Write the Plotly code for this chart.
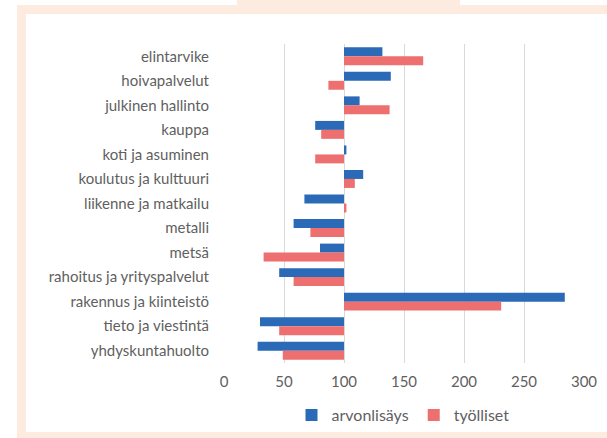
import plotly.graph_objects as go

categories = ["elintarvike", "hoivapalvelut", "julkinen hallinto", "kauppa",
              "koti ja asuminen", "koulutus ja kulttuuri", "liikenne ja matkailu",
              "metalli", "metsä", "rahoitus ja yrityspalvelut",
              "rakennus ja kiinteistö", "tieto ja viestintä", "yhdyskuntahuolto"]
arvonlisays = [132, 139, 113, 76, 102, 116, 67, 58, 80, 46, 284, 30, 28]
tyolliset = [166, 87, 138, 81, 76, 109, 102, 72, 33, 58, 231, 46, 49]
x_ticks = [0, 50, 100, 150, 200, 250, 300]
BASE = 100

W, H = 607, 438
L, R, T, B = 224, 23, 44, 75
pw, ph = W - L - R, H - T - B

def px(x):
    return (x - L) / pw

def py(y):
    return (H - B - y) / ph

FAM = "Lato, 'Open Sans', sans-serif"
font = dict(family=FAM, size=15, color="#5F5F5F")

fig = go.Figure()
fig.add_trace(go.Bar(y=categories, x=[v - BASE for v in arvonlisays], base=BASE,
                     orientation="h", name="arvonlisäys", marker_color="#2A6AB6",
                     marker_line_width=0))
fig.add_trace(go.Bar(y=categories, x=[v - BASE for v in tyolliset], base=BASE,
                     orientation="h", name="työlliset", marker_color="#EE6F6F",
                     marker_line_width=0))

peach = "#FDEBE0"
shapes = []
def rect(x0, y0, x1, y1):
    shapes.append(dict(type="rect", xref="paper", yref="paper",
                       x0=px(x0), x1=px(x1), y0=py(y0), y1=py(y1),
                       fillcolor=peach, line_width=0, layer="below"))
rect(17, 5, 607, 14)
rect(237, 0, 460, 14)
rect(17, 5, 26, 438)
rect(17, 432, 607, 438)

fig.update_layout(
    width=W, height=H,
    margin=dict(l=L, r=R, t=T, b=B, autoexpand=False),
    paper_bgcolor="white", plot_bgcolor="white",
    barmode="group", bargap=0.27, bargroupgap=0,
    font=font,
    shapes=shapes,
    showlegend=True,
    legend=dict(orientation="h", x=px(403), xanchor="center", y=py(415), yanchor="middle",
                font=dict(family=FAM, size=16, color="#5F5F5F"),
                itemwidth=30, tracegroupgap=0),
    xaxis=dict(range=[0, 300], tickvals=x_ticks, showgrid=True, gridcolor="#D9D9D9",
               gridwidth=1, zeroline=False, showline=False, ticks="",
               ticklabelstandoff=8, tickfont=font),
    yaxis=dict(autorange="reversed", showgrid=False, zeroline=False, showline=False,
               ticks="", ticklabelstandoff=14, tickfont=font),
)

fig.write_html("out.html", config={"displayModeBar": False},
               post_script="document.body.style.margin='0';")
